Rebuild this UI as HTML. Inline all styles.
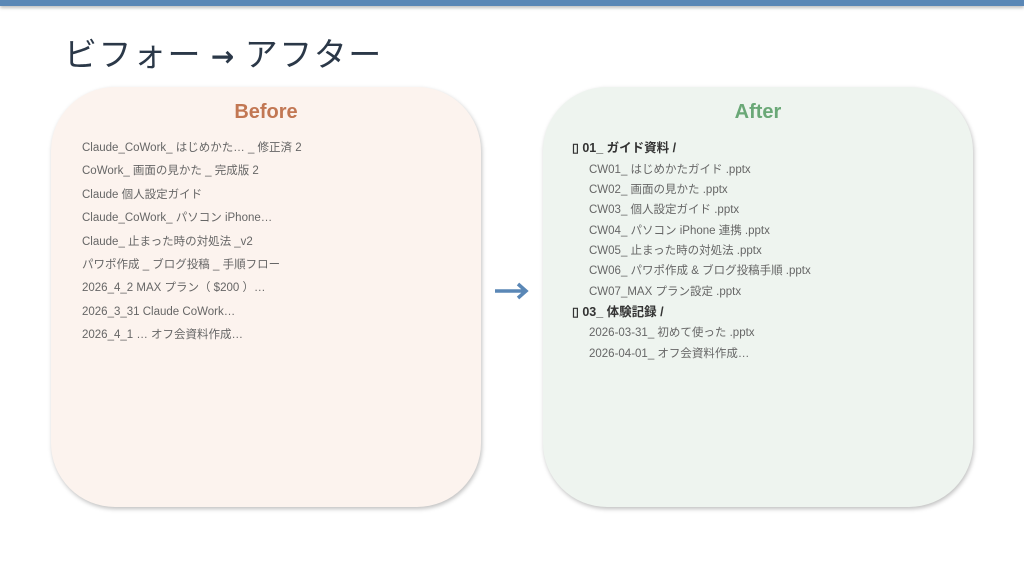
<!DOCTYPE html>
<html><head><meta charset="utf-8"><style>
body{margin:0;width:1024px;height:577px;background:#fff;position:relative;overflow:hidden;font-family:"Liberation Sans","Noto Sans CJK JP",sans-serif}
.bar{position:absolute;left:0;top:0;width:1024px;height:6px;background:#5a87b6;box-shadow:0 2px 3px rgba(0,0,0,.25)}
.title{position:absolute;left:64px;top:30px;font-size:33px;letter-spacing:1.5px;color:#2b3848;font-family:"Noto Sans CJK JP",sans-serif;line-height:44px;white-space:nowrap}
.box{position:absolute;top:87px;width:430px;height:420px;border-radius:64px;box-shadow:1px 2px 4px rgba(0,0,0,.25)}
.b{left:51px;background:#fcf3ee}
.a{left:543px;background:#eef4ef}
.h{position:absolute;top:100px;width:430px;text-align:center;font-weight:bold;font-size:20px;line-height:24px}
.t{position:absolute;font-size:11.5px;color:#666;white-space:nowrap;line-height:16px}
.f{position:absolute;font-size:12.5px;color:#333;font-weight:bold;white-space:nowrap;line-height:16px}
</style></head><body>
<div class="bar"></div>
<div class="title">ビフォー <b style="font-family:'DejaVu Sans',sans-serif;font-size:28px">→</b> アフター</div>
<div class="box b"></div><div class="box a"></div>
<div class="h" style="left:51px;color:#c27753">Before</div>
<div class="h" style="left:543px;color:#6aa877">After</div>
<div class="t" style="left:82px;top:140px">Claude_CoWork_ はじめかた… _ 修正済 2</div>
<div class="t" style="left:82px;top:163px">CoWork_ 画面の見かた _ 完成版 2</div>
<div class="t" style="left:82px;top:187px">Claude 個人設定ガイド</div>
<div class="t" style="left:82px;top:210px">Claude_CoWork_ パソコン iPhone…</div>
<div class="t" style="left:82px;top:234px">Claude_ 止まった時の対処法 _v2</div>
<div class="t" style="left:82px;top:257px">パワポ作成 _ ブログ投稿 _ 手順フロー</div>
<div class="t" style="left:82px;top:280px">2026_4_2 MAX プラン（ $200 ）…</div>
<div class="t" style="left:82px;top:304px">2026_3_31 Claude CoWork…</div>
<div class="t" style="left:82px;top:327px">2026_4_1 … オフ会資料作成…</div>
<svg style="position:absolute;left:492px;top:280px" width="40" height="22"><path d="M3 11H34M26 4L34 11L26 18" stroke="#5a87b6" stroke-width="3.5" fill="none"/></svg>
<div class="f" style="left:572px;top:140px">▯ 01_ ガイド資料 /</div>
<div class="t" style="left:589px;top:162px">CW01_ はじめかたガイド .pptx</div>
<div class="t" style="left:589px;top:182px">CW02_ 画面の見かた .pptx</div>
<div class="t" style="left:589px;top:202px">CW03_ 個人設定ガイド .pptx</div>
<div class="t" style="left:589px;top:223px">CW04_ パソコン iPhone 連携 .pptx</div>
<div class="t" style="left:589px;top:243px">CW05_ 止まった時の対処法 .pptx</div>
<div class="t" style="left:589px;top:263px">CW06_ パワポ作成 &amp; ブログ投稿手順 .pptx</div>
<div class="t" style="left:589px;top:284px">CW07_MAX プラン設定 .pptx</div>
<div class="f" style="left:572px;top:304px">▯ 03_ 体験記録 /</div>
<div class="t" style="left:589px;top:325px">2026-03-31_ 初めて使った .pptx</div>
<div class="t" style="left:589px;top:346px">2026-04-01_ オフ会資料作成…</div>
</body></html>
